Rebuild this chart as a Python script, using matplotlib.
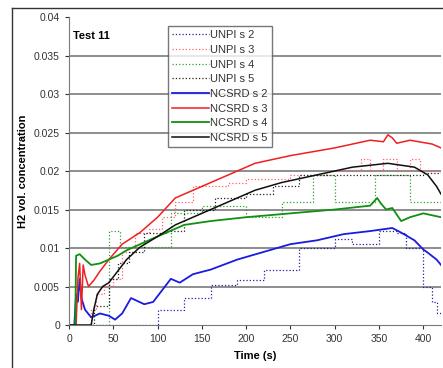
import numpy as np
import matplotlib.pyplot as plt
from matplotlib.lines import Line2D

plt.rcParams['font.family'] = ['Liberation Sans', 'DejaVu Sans']

# NCSRD solid curves
t_n2 = [0, 6, 8, 10, 12, 14, 18, 25, 35, 45, 52, 60, 70, 85, 95, 105, 115, 125, 140, 160, 190, 220, 250, 280, 310, 340, 365, 375, 390, 400, 405, 415, 420]
c_n2 = [0, 0, 0.004, 0.003, 0.006, 0.0035, 0.002, 0.001, 0.0015, 0.0012, 0.0007, 0.0015, 0.0035, 0.0027, 0.003, 0.0045, 0.006, 0.0055, 0.0066, 0.0072, 0.0085, 0.0095, 0.0105, 0.011, 0.0118, 0.0122, 0.0126, 0.012, 0.011, 0.0098, 0.0094, 0.0085, 0.0078]

t_n3 = [0, 8, 10, 12, 14, 16, 18, 22, 28, 35, 45, 60, 80, 100, 120, 150, 180, 210, 250, 300, 340, 355, 360, 365, 370, 385, 410, 420]
c_n3 = [0, 0, 0.006, 0.008, 0.002, 0.0078, 0.0065, 0.005, 0.0058, 0.007, 0.0085, 0.0105, 0.012, 0.014, 0.0165, 0.018, 0.0195, 0.021, 0.022, 0.023, 0.024, 0.0238, 0.0247, 0.0243, 0.0236, 0.024, 0.0235, 0.023]

t_n4 = [0, 7, 8, 12, 18, 25, 35, 45, 55, 65, 90, 110, 130, 160, 200, 250, 300, 340, 348, 352, 358, 365, 375, 385, 400, 420]
c_n4 = [0, 0, 0.009, 0.0092, 0.0085, 0.0078, 0.008, 0.0085, 0.009, 0.0097, 0.011, 0.012, 0.013, 0.0135, 0.014, 0.0145, 0.015, 0.0155, 0.0165, 0.0158, 0.015, 0.0152, 0.0135, 0.014, 0.0145, 0.014]

t_n5 = [0, 25, 28, 32, 38, 45, 55, 65, 80, 100, 120, 150, 180, 210, 240, 280, 320, 360, 390, 405, 415, 420]
c_n5 = [0, 0, 0.002, 0.004, 0.005, 0.0055, 0.007, 0.0085, 0.0101, 0.0115, 0.013, 0.0145, 0.016, 0.0175, 0.0185, 0.0195, 0.0205, 0.021, 0.0205, 0.0195, 0.018, 0.017]

# UNIPI dotted step curves
t_u2 = [0, 100, 130, 160, 190, 220, 260, 300, 320, 350, 370, 380, 400, 410, 415, 420]
c_u2 = [0, 0.0019, 0.0035, 0.0052, 0.0058, 0.0072, 0.01, 0.0112, 0.0105, 0.0122, 0.012, 0.01, 0.005, 0.003, 0.0015, 0.0015]

t_u3 = [0, 25, 30, 40, 50, 60, 75, 90, 105, 120, 140, 180, 200, 250, 290, 330, 340, 355, 362, 370, 385, 396, 420]
c_u3 = [0, 0.002, 0.004, 0.005, 0.006, 0.0095, 0.012, 0.0125, 0.014, 0.016, 0.018, 0.0185, 0.019, 0.0195, 0.02, 0.0215, 0.02, 0.0215, 0.0215, 0.02, 0.0215, 0.02, 0.02]

t_u4 = [0, 45, 57, 100, 115, 150, 200, 240, 275, 300, 345, 385, 420]
c_u4 = [0, 0.0122, 0.0101, 0.0101, 0.0145, 0.0155, 0.014, 0.016, 0.0195, 0.016, 0.0195, 0.016, 0.016]

t_u5 = [0, 28, 45, 55, 68, 85, 110, 130, 165, 200, 230, 260, 400, 420]
c_u5 = [0, 0.0025, 0.006, 0.008, 0.0095, 0.012, 0.0122, 0.015, 0.0165, 0.017, 0.018, 0.0195, 0.0198, 0.0198]

labels = ['UNPI s 2', 'UNPI s 3', 'UNPI s 4', 'UNPI s 5',
          'NCSRD s 2', 'NCSRD s 3', 'NCSRD s 4', 'NCSRD s 5']
y_ticks = [0, 0.005, 0.01, 0.015, 0.02, 0.025, 0.03, 0.035, 0.04]
y_ticklabels = ['0', '0.005', '0.01', '0.015', '0.02', '0.025', '0.03', '0.035', '0.04']
x_ticks = [0, 50, 100, 150, 200, 250, 300, 350, 400]

fig = plt.figure(figsize=(4.43, 3.68), dpi=100)
ax = fig.add_axes([0.1558, 0.1168, 0.8397, 0.837])

for y in y_ticks[1:-1]:
    ax.axhline(y, color='#7a7a7a', lw=1.2, zorder=0)

ax.step(t_u2, c_u2, where='post', color='#2020a0', ls=':', lw=0.9, label=labels[0])
ax.step(t_u3, c_u3, where='post', color='#ff6070', ls=':', lw=0.9, label=labels[1])
ax.step(t_u4, c_u4, where='post', color='#30a030', ls=':', lw=0.9, label=labels[2])
ax.step(t_u5, c_u5, where='post', color='#202020', ls=':', lw=0.9, label=labels[3])
ax.plot(t_n2, c_n2, color='#1a1ae0', lw=1.3, label=labels[4])
ax.plot(t_n3, c_n3, color='#ee2020', lw=1.1, label=labels[5])
ax.plot(t_n4, c_n4, color='#109010', lw=1.3, label=labels[6])
ax.plot(t_n5, c_n5, color='#101010', lw=1.1, label=labels[7])

ax.set_xlim(0, 420)
ax.set_ylim(0, 0.04)
ax.set_yticks(y_ticks)
ax.set_yticklabels(y_ticklabels)
ax.set_xticks(x_ticks)
ax.tick_params(labelsize=7.5, colors='#333333', length=3, direction='out')
for s in ['top', 'right']:
    ax.spines[s].set_visible(False)
ax.spines['left'].set_color('#7a7a7a')
ax.spines['bottom'].set_color('#7a7a7a')

ax.text(4, 0.0375, 'Test 11', fontsize=8, fontweight='bold', va='center')
ax.set_xlabel('Time (s)', fontsize=8, fontweight='bold', labelpad=5)
ax.set_ylabel('H2 vol. concentration', fontsize=8, fontweight='bold', labelpad=4)

leg = ax.legend(loc='upper left', bbox_to_anchor=(0.266, 0.971), fontsize=8,
                frameon=True, fancybox=False, edgecolor='#555555',
                handlelength=3.3, handletextpad=0.05, labelspacing=0.42,
                borderpad=0.4, borderaxespad=0)
for t in leg.get_texts():
    t.set_color('#333333')

fig.add_artist(Line2D([12 / 443, 12 / 443], [0, 1 - 8 / 368], color='#333333', lw=1))
fig.add_artist(Line2D([12 / 443, 1], [1 - 8 / 368, 1 - 8 / 368], color='#333333', lw=1))

fig.savefig('out.png', dpi=100)
